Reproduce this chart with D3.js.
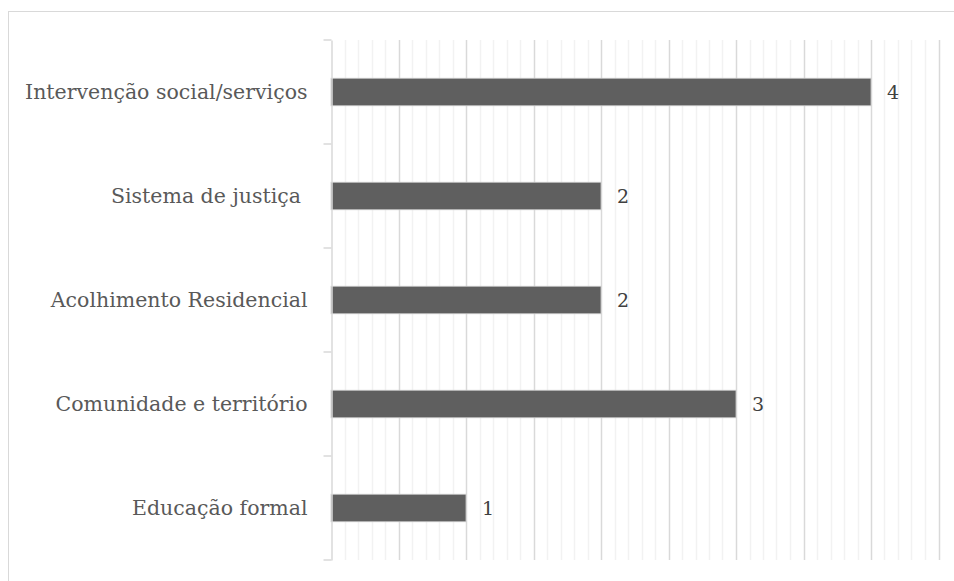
<!DOCTYPE html>
<html>
<head>
<meta charset="utf-8">
<script src="https://cdn.jsdelivr.net/npm/d3@7"></script>
<style>
  body { margin: 0; background: #fff; }
  svg text { font-family: "DejaVu Serif", serif; fill: #595959; white-space: pre; }
</style>
</head>
<body>
<svg width="954" height="581"></svg>
<script>
// data, top to bottom as drawn
var categories = ["Intervenção social/serviços", "Sistema de justiça ", "Acolhimento Residencial", "Comunidade e território", "Educação formal"];
var values = [4, 2, 2, 3, 1];

var width = 954;
var height = 581;
var margin = {top: 40, right: 15, bottom: 21, left: 331};
var xMax = 4.5;

var svg = d3.select("svg");

// chart frame (right and bottom edges run off the picture)
svg.append("rect")
  .attr("x", 8.5).attr("y", 11.5)
  .attr("width", 960).attr("height", 600)
  .attr("fill", "none")
  .attr("stroke", "#d9d9d9");

var x = d3.scaleLinear()
  .domain([0, xMax])
  .range([margin.left, margin.left + 607.5]);

var y = d3.scaleBand()
  .domain(categories)
  .range([margin.top, height - margin.bottom])
  .paddingInner(0)
  .paddingOuter(0);

var g = svg.append("g");

// minor gridlines
g.selectAll(".minor")
  .data(d3.range(1, 46).filter(function(i) { return i % 5 != 0; }))
  .enter().append("line")
  .attr("x1", function(i) { return Math.round(x(i / 10)) + 0.5; })
  .attr("x2", function(i) { return Math.round(x(i / 10)) + 0.5; })
  .attr("y1", y.range()[0]).attr("y2", y.range()[1])
  .attr("stroke", "#f2f2f2")
  .attr("stroke-width", 1.5);

// major gridlines
g.selectAll(".major")
  .data(d3.range(1, 10))
  .enter().append("line")
  .attr("x1", function(i) { return Math.round(x(i / 2)) + 0.5; })
  .attr("x2", function(i) { return Math.round(x(i / 2)) + 0.5; })
  .attr("y1", y.range()[0]).attr("y2", y.range()[1])
  .attr("stroke", "#d9d9d9")
  .attr("stroke-width", 1.5);

// bars
var barH = y.bandwidth() * 0.265;
g.selectAll(".bar")
  .data(values)
  .enter().append("rect")
  .attr("x", x(0))
  .attr("y", function(d, i) { return y(categories[i]) + y.bandwidth() / 2 - barH / 2; })
  .attr("width", function(d) { return x(d) - x(0); })
  .attr("height", barH)
  .attr("fill", "#5f5f5f")
  .attr("stroke", "#d0d0d0")
  .attr("stroke-width", 0.8);

// value labels
g.selectAll(".val")
  .data(values)
  .enter().append("text")
  .attr("x", function(d) { return x(d) + 16; })
  .attr("y", function(d, i) { return y(categories[i]) + y.bandwidth() / 2; })
  .attr("dy", "0.35em")
  .style("font-size", "19px")
  .style("fill", "#404040")
  .text(function(d) { return d; });

// vertical category axis
var yAxis = d3.axisLeft(y).tickSize(0).tickPadding(24);
var ax = svg.append("g")
  .attr("transform", "translate(" + (margin.left + 0.5) + ",0)")
  .call(yAxis);
ax.select(".domain").attr("stroke", "#d9d9d9").attr("stroke-width", 1.5);
ax.selectAll("text").style("font-size", "20.5px").attr("dy", "0.35em");

// ticks on category boundaries
var bounds = categories.map(function(c) { return y(c); }).concat([y.range()[1]]);
ax.selectAll(".bound")
  .data(bounds)
  .enter().append("line")
  .attr("x1", -8).attr("x2", 0)
  .attr("y1", function(d) { return d; })
  .attr("y2", function(d) { return d; })
  .attr("stroke", "#d9d9d9")
  .attr("stroke-width", 1.5);
</script>
</body>
</html>
